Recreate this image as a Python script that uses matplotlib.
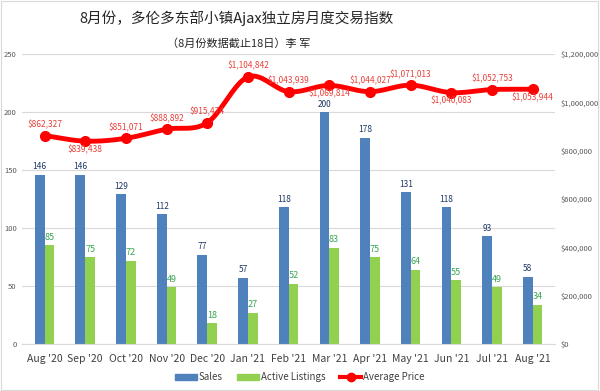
import numpy as np
import matplotlib.pyplot as plt
from matplotlib.lines import Line2D
from matplotlib.patches import Patch
from matplotlib.ticker import FuncFormatter

plt.rcParams['font.family'] = ['Noto Sans CJK SC', 'DejaVu Sans']

months = ["Aug '20", "Sep '20", "Oct '20", "Nov '20", "Dec '20", "Jan '21", "Feb '21",
          "Mar '21", "Apr '21", "May '21", "Jun '21", "Jul '21", "Aug '21"]
sales = [146, 146, 129, 112, 77, 57, 118, 200, 178, 131, 118, 93, 58]
listings = [85, 75, 72, 49, 18, 27, 52, 83, 75, 64, 55, 49, 34]
avg_price = [862327, 839438, 851071, 888892, 915474, 1104842, 1043939,
             1069814, 1044027, 1071013, 1040083, 1052753, 1053944]
# where each price label sits: +1 above point, -1 below
label_side = [1, -1, 1, 1, 1, 1, 1, -1, 1, 1, -1, 1, -1]

blue = '#4f81bd'
green = '#92d050'
red = '#ff0000'


def smooth(x, y, n=20):
    # catmull-rom through the points, like excel's smoothed line
    x = np.asarray(x, float)
    y = np.asarray(y, float)
    px = np.concatenate([[2 * x[0] - x[1]], x, [2 * x[-1] - x[-2]]])
    py = np.concatenate([[2 * y[0] - y[1]], y, [2 * y[-1] - y[-2]]])
    xs, ys = [], []
    t = np.linspace(0, 1, n, endpoint=False)
    for i in range(1, len(px) - 2):
        for p, out in ((px, xs), (py, ys)):
            p0, p1, p2, p3 = p[i - 1], p[i], p[i + 1], p[i + 2]
            out.extend(0.5 * ((2 * p1) + (-p0 + p2) * t
                              + (2 * p0 - 5 * p1 + 4 * p2 - p3) * t ** 2
                              + (-p0 + 3 * p1 - 3 * p2 + p3) * t ** 3))
    xs.append(x[-1])
    ys.append(y[-1])
    return np.array(xs), np.array(ys)


fig = plt.figure(figsize=(6, 3.91), dpi=100)
ax = fig.add_axes([0.037, 0.12, 0.888, 0.742])
ax2 = ax.twinx()

x = np.arange(len(months))
w = 0.24
ax.bar(x - w / 2, sales, w, color=blue, zorder=2)
ax.bar(x + w / 2, listings, w, color=green, zorder=2)
for i in range(len(x)):
    ax.text(x[i] - w / 2, sales[i] + 3, str(sales[i]), ha='center', va='bottom',
            fontsize=6, color='#1f3864')
    ax.text(x[i] + w / 2, listings[i] + 3, str(listings[i]), ha='center', va='bottom',
            fontsize=6.5, color='#3aa655')

ax.set_ylim(0, 250)
ax.set_yticks(range(0, 251, 50))
ax.set_xlim(-0.55, len(x) - 0.45)
ax.set_xticks(x)
ax.set_xticklabels(months, fontsize=7.5, color='#404040')
ax.tick_params(axis='y', labelsize=5.5, colors='#595959', length=0, pad=4)
ax.tick_params(axis='x', length=0, pad=7)
ax.grid(axis='y', color='#d9d9d9', linewidth=0.8, zorder=0)
ax.set_axisbelow(True)
for s in ['top', 'left', 'right']:
    ax.spines[s].set_visible(False)
    ax2.spines[s].set_visible(False)
ax.spines['bottom'].set_color('#d9d9d9')
ax2.spines['bottom'].set_visible(False)

sx, sy = smooth(x, avg_price)
ax2.plot(sx, sy, color=red, linewidth=3.5, zorder=3, solid_capstyle='round')
ax2.plot(x, avg_price, 'o', color=red, markersize=7, zorder=4)
for i in range(len(x)):
    off = 4.5 if label_side[i] > 0 else -2.5
    ax2.annotate('${:,}'.format(avg_price[i]), (x[i], avg_price[i]),
                 xytext=(0, off), textcoords='offset points', ha='center',
                 va='bottom' if off > 0 else 'top', fontsize=6, color='#e8403a', zorder=5)
ax2.set_ylim(0, 1200000)
ax2.set_yticks(range(0, 1200001, 200000))
ax2.yaxis.set_major_formatter(FuncFormatter(lambda v, p: '${:,.0f}'.format(v)))
ax2.tick_params(axis='y', labelsize=5.5, colors='#595959', length=0, pad=4)

fig.text(0.395, 0.953, '8月份，多伦多东部小镇Ajax独立房月度交易指数', ha='center', va='center',
         fontsize=10.5, color='#262626')
fig.text(0.397, 0.89, '（8月份数据截止18日）李 军', ha='center', va='center',
         fontsize=8, color='#262626')

handles = [Patch(color=blue), Patch(color=green),
           Line2D([0], [0], color=red, linewidth=3, marker='o', markersize=6)]
fig.legend(handles, ['Sales', 'Active Listings', 'Average Price'], loc='center',
           bbox_to_anchor=(0.5, 0.035), ncol=3, frameon=False, fontsize=7,
           handlelength=2.2, handleheight=0.6, columnspacing=1.5, handletextpad=0.2,
           labelcolor='#404040')

fig.patches.append(plt.Rectangle((0.002, 0.003), 0.995, 0.994, transform=fig.transFigure,
                                 fill=False, edgecolor='#d9d9d9', linewidth=0.8))
fig.savefig('out.png', dpi=100)
